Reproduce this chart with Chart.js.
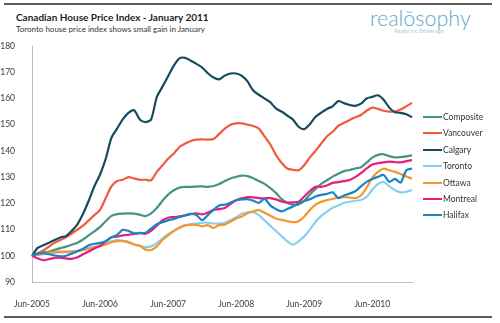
<!DOCTYPE html>
<html>
<head>
<meta charset="utf-8">
<script src="https://cdn.jsdelivr.net/npm/chart.js@4.4.0/dist/chart.umd.min.js"></script>
<style>
  body { margin: 0; background: #fff; }
  #wrap { position: relative; width: 500px; height: 323px; overflow: hidden; background: #fff;
          font-family: Lato, "Open Sans", sans-serif; }
  #chart { position: absolute; left: 0; top: 0; }
  .rule { position: absolute; left: 4px; width: 488px; height: 2px; background: #5c5c5c; }
  #title { position: absolute; left: 16px; top: 11px; font-size: 10px; font-weight: bold; color: #1e1e1e; white-space: nowrap; }
  #subtitle { position: absolute; left: 16px; top: 24px; font-size: 8px; color: #333; white-space: nowrap; }
  #logo { position: absolute; left: 370px; top: 5px; font-size: 21.5px; font-weight: 300; color: #5aa9c8; white-space: nowrap; }
  #tagline { position: absolute; left: 394px; top: 28px; font-size: 5.5px; color: #a9d0de; white-space: nowrap; }
  #legend { position: absolute; left: 423px; top: 0; }
  .item { position: absolute; left: 0; height: 12px; white-space: nowrap; }
  .item span.swatch { position: absolute; left: 0; top: 5px; width: 19px; height: 2px; }
  .item span.name { position: absolute; left: 20px; top: 0; font-size: 8.5px; line-height: 12px; color: #333; }
</style>
</head>
<body>
<div id="wrap">
  <div class="rule" style="top:3px"></div>
  <div id="title">Canadian House Price Index - January 2011</div>
  <div id="subtitle">Toronto house price index shows small gain in January</div>
  <div id="logo">realŏsophy</div>
  <div id="tagline">Realty Inc Brokerage</div>
  <canvas id="chart" width="500" height="323"></canvas>
  <div id="legend"></div>
  <div class="rule" style="top:316px"></div>
</div>
<script>
// Monthly index, Jun-2005 = 100, through Jan-2011
const composite = [
  100, 100.6, 101.2, 101.6, 102.3, 102.9, 103.5, 104.2, 105, 106.2,
  107.8, 109.3, 111, 113.2, 115.2, 115.9, 116.1, 116.2, 116.1, 115.7,
  115.1, 116.2, 118.2, 121, 123.3, 125, 126, 126.3, 126.3, 126.4,
  126.5, 126.3, 126.6, 127.4, 128.5, 129.5, 130.1, 130.6, 130.4, 129.6,
  128.5, 127.4, 125.8, 124, 121.6, 120.2, 119.5, 119.6, 121, 123.4,
  125.5, 127.4, 128.8, 130.2, 131.3, 132.3, 132.7, 133.3, 133.8, 135.5,
  137.4, 138.5, 138.7, 138, 137.5, 137.6, 137.9, 138.3
];
const vancouver = [
  100, 101, 102, 103.5, 105, 106, 107, 108.5, 110, 111.5,
  113.5, 115.5, 117.5, 122, 126.5, 128.5, 129, 130, 129.5, 129,
  129, 128.8, 132, 134.5, 137, 139, 141.5, 142.8, 143.8, 144.3,
  144.4, 144.3, 144.5, 146.5, 148.5, 150, 150.5, 150.5, 150, 149.5,
  148.5, 145.5, 142.5, 138.5, 135.5, 133.3, 132.8, 132.6, 134.5, 137.5,
  140, 142.8, 145.5, 147.3, 149.5, 150.7, 151.8, 152.8, 153.7, 155.3,
  156.5, 156, 155.3, 155, 155, 155.8, 157, 158.3
];
const calgary = [
  100, 103, 104, 105, 106, 107, 107.5, 109.5, 112, 116,
  121, 126.5, 131, 137, 145, 148.5, 152, 154.5, 155.5, 152,
  151, 152, 160.5, 164.5, 168.5, 172.5, 175.3, 175.5, 174.4, 173.2,
  171.8, 169.6, 168, 167.3, 168.7, 169.5, 169.5, 168.6, 166.5, 163,
  161.4, 160, 158.6, 156.2, 155, 153.5, 152, 149.2, 148.3, 150.2,
  153, 154.6, 156, 157, 159, 158.2, 157.5, 157.2, 158, 160,
  160.6, 161.2, 159.5, 156.5, 154.7, 154.5, 154, 152.8
];
const toronto = [
  100, 100.3, 100.6, 100.9, 101.2, 101.3, 101.4, 101.6, 101.9, 102.4,
  103, 103.5, 103.8, 104.6, 105.5, 106, 105.8, 105, 104.4, 103.8,
  103.3, 103.6, 104.8, 106.6, 108.2, 109.6, 110.6, 111.5, 112.1, 112.3,
  112.6, 112.6, 112.3, 112.3, 112.6, 113.6, 114.7, 116, 116.6, 116.6,
  115.5, 113.5, 111.5, 109.5, 107.5, 105.5, 104.2, 105.5, 107.4, 110,
  113, 115.2, 116.8, 118.3, 119.2, 120.2, 120.6, 121, 121.3, 122.5,
  125.2, 127.3, 128.2, 126.5, 125, 124.2, 124.4, 125.1
];
const ottawa = [
  100, 100.4, 100.9, 101.2, 101.5, 101.6, 101.6, 101.6, 101.8, 102.2,
  102.6, 103.2, 103.7, 104.3, 105.2, 105.6, 105.6, 105.3, 104.3, 103.8,
  102.4, 102.2, 103.6, 106, 107.8, 109.4, 110.8, 111.7, 111.8, 111.8,
  111.2, 111.7, 110.6, 111.7, 111.9, 113, 114.2, 115, 116.2, 117,
  117.4, 116.4, 115.3, 114.2, 113.7, 113.2, 112.8, 113.2, 115, 117.5,
  119.5, 120.6, 121.2, 121.7, 122.2, 122.4, 122.2, 122, 123, 126,
  129.8, 132, 133.2, 132.6, 132, 131.2, 130.2, 129.4
];
const montreal = [
  100, 99, 98.3, 98.7, 99.2, 99.3, 99, 98.8, 99.4, 100.6,
  101.6, 102.8, 103.8, 105.5, 107.1, 107.3, 107.8, 108, 108.3, 108.6,
  108.4, 109.5, 111.5, 113.5, 114.5, 114.8, 115, 115.4, 115.9, 116.2,
  115.8, 116.5, 117.5, 117.8, 118.2, 119.8, 121.2, 121.9, 122.4, 122.3,
  122, 121.9, 122, 121.5, 120.7, 120.3, 120.4, 120.6, 122.6, 124.7,
  126.3, 126.3, 126.8, 127.8, 128.1, 128.5, 128.9, 130, 131.5, 133.3,
  134.8, 135.3, 135.6, 135.9, 135.7, 135.6, 136.1, 136.5
];
const halifax = [
  100, 100.8, 101, 100.6, 100.1, 99.8, 100, 100.8, 101.7, 102.7,
  104, 104.6, 104.9, 105.5, 107, 108, 109.9, 109.5, 108.6, 108.7,
  108.8, 110.4, 112, 112.8, 113.5, 114, 114.8, 115.4, 116, 115.5,
  113.6, 115.5, 117.5, 119.2, 119.5, 120.3, 121.2, 121.5, 121.6, 121,
  120.2, 121.8, 119.2, 117.8, 116.9, 117.8, 118.8, 120, 120.9, 121.6,
  122.6, 123.2, 123.6, 124.2, 122, 123, 123.7, 124.6, 126.5, 128.2,
  129.3, 130.1, 130.8, 128.2, 129.3, 127.9, 132.6, 133.3
];

const seriesNames = ['Composite', 'Vancouver', 'Calgary', 'Toronto', 'Ottawa', 'Montreal', 'Halifax'];
const seriesData = [composite, vancouver, calgary, toronto, ottawa, montreal, halifax];
const seriesColors = ['#449482', '#f25a3b', '#174a5e', '#86d0f2', '#f4952e', '#ea1b7d', '#1a85c1'];
const tickLabels = ['Jun-2005', 'Jun-2006', 'Jun-2007', 'Jun-2008', 'Jun-2009', 'Jun-2010'];

// one category per month, starting Jun-2005
const monthNames = ['Jan','Feb','Mar','Apr','May','Jun','Jul','Aug','Sep','Oct','Nov','Dec'];
const months = composite.map((_, i) => monthNames[(5 + i) % 12] + '-' + (2005 + Math.floor((5 + i) / 12)));

const datasets = seriesNames.map((name, k) => ({
  label: name,
  data: seriesData[k],
  borderColor: seriesColors[k],
  backgroundColor: seriesColors[k],
  borderWidth: 2.2,
  pointRadius: 0,
  tension: 0.25,
  fill: false,
  order: seriesNames.length - k
}));

const axisFont = { family: 'Lato', size: 8.5 };

new Chart(document.getElementById('chart').getContext('2d'), {
  type: 'line',
  data: { labels: months, datasets: datasets },
  options: {
    responsive: false,
    animation: false,
    devicePixelRatio: 1,
    layout: { padding: { top: 46, right: 88, bottom: 0, left: 0 } },
    plugins: { legend: { display: false }, tooltip: { enabled: false } },
    scales: {
      x: {
        offset: false,
        grid: { display: false },
        border: { color: '#bdbdbd', width: 1 },
        afterFit: function(scale) { scale.height = 41; },
        ticks: {
          autoSkip: false, maxRotation: 0, minRotation: 0, padding: 9,
          color: '#3a3a3a', font: axisFont,
          callback: function(value) {
            const l = this.getLabelForValue(value);
            return tickLabels.includes(l) ? l : null;
          }
        }
      },
      y: {
        min: 90, max: 180,
        grid: { display: false },
        border: { color: '#bdbdbd', width: 1 },
        afterFit: function(scale) { scale.width = 32; },
        ticks: { stepSize: 10, padding: 9, color: '#3a3a3a', font: axisFont }
      }
    }
  }
});

// legend on the right
const legend = document.getElementById('legend');
const legendTop = [111, 127, 143.5, 160, 176.5, 193, 209];
seriesNames.forEach((name, k) => {
  const item = document.createElement('div');
  item.className = 'item';
  item.style.top = legendTop[k] + 'px';
  item.innerHTML = '<span class="swatch" style="background:' + seriesColors[k] + '"></span><span class="name">' + name + '</span>';
  legend.appendChild(item);
});
</script>
</body>
</html>
